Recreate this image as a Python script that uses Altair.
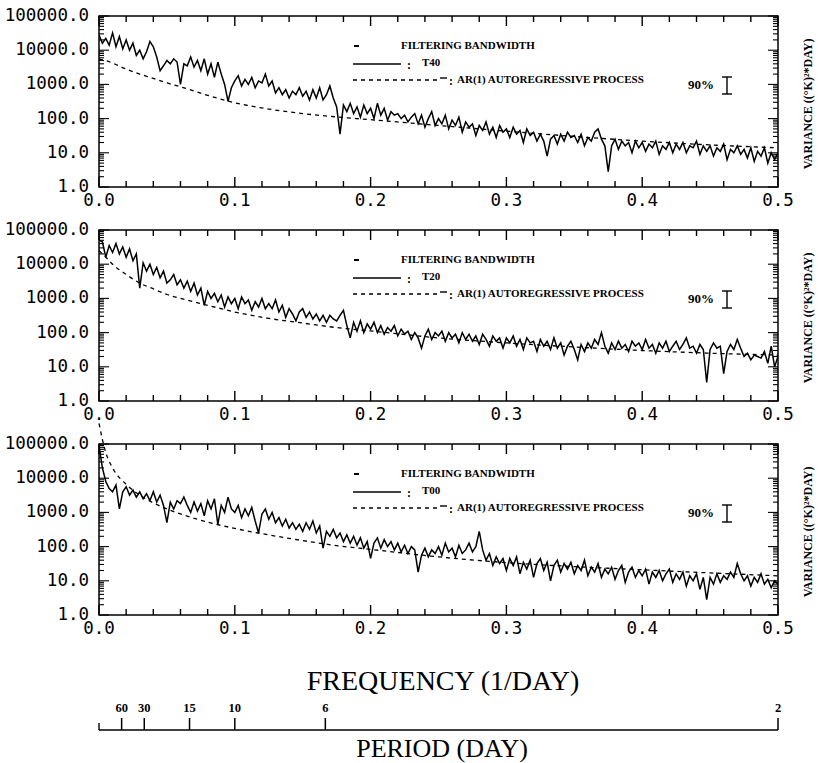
import altair as alt
import pandas as pd

# ---------------- data ----------------
FREQ = [round(i * 0.0025, 4) for i in range(201)]

T40 = [28000, 16000, 22000, 14000, 32000, 12600, 25000, 11000, 20000, 10000,
       16000, 7000, 10000, 5600, 9000, 18000, 12600, 6300, 2500, 3500,
       5000, 4000, 5600, 4500, 1000, 4000, 3500, 6300, 3200, 5000,
       2500, 5600, 2000, 4000, 1600, 4500, 2000, 1000, 320, 800,
       1260, 1800, 900, 1400, 1000, 1600, 800, 1260, 1100, 2000,
       900, 1260, 560, 800, 500, 700, 400, 630, 500, 800,
       450, 630, 350, 700, 400, 800, 350, 500, 900, 400,
       220, 35, 250, 160, 280, 140, 220, 110, 250, 140,
       200, 100, 280, 126, 200, 90, 160, 126, 140, 100,
       126, 80, 110, 140, 70, 126, 56, 100, 160, 63,
       100, 70, 126, 50, 90, 63, 110, 40, 80, 56,
       70, 32, 63, 45, 80, 35, 56, 28, 63, 40,
       50, 28, 56, 35, 45, 20, 50, 32, 40, 22,
       35, 22, 8, 25, 32, 18, 35, 22, 40, 28,
       32, 20, 35, 16, 28, 22, 40, 50, 25, 16,
       2.8, 16, 25, 12.6, 22, 16, 20, 10, 22, 14,
       20, 11, 18, 14, 22, 9, 16, 12.6, 20, 10,
       18, 12.6, 20, 10, 16, 14, 22, 9, 16, 11,
       16, 8, 14, 11, 18, 6.3, 12.6, 10, 16, 9,
       12.6, 7, 14, 5.6, 11, 8, 14, 5, 10, 6.3, 10]

T20 = [50000, 45000, 16000, 35000, 22000, 40000, 20000, 32000, 16000, 28000,
       12600, 20000, 2000, 11000, 6300, 10000, 5000, 8000, 4000, 6300,
       2800, 3500, 5000, 2500, 3500, 2000, 3200, 1600, 2800, 1260,
       2000, 630, 1600, 1000, 1400, 800, 1260, 560, 1100, 700,
       1000, 500, 1100, 700, 900, 450, 800, 560, 1000, 500,
       700, 500, 900, 400, 630, 280, 500, 350, 220, 400,
       500, 280, 400, 250, 350, 220, 320, 200, 320, 250,
       220, 320, 450, 160, 70, 200, 110, 220, 100, 180,
       126, 200, 100, 160, 90, 140, 110, 160, 80, 126,
       90, 110, 63, 100, 70, 35, 80, 126, 63, 100,
       80, 110, 56, 100, 70, 90, 50, 100, 63, 90,
       56, 80, 45, 90, 63, 40, 80, 56, 70, 35,
       70, 50, 80, 40, 63, 32, 70, 50, 56, 28,
       63, 40, 56, 32, 70, 35, 50, 22, 40, 56,
       32, 16, 45, 28, 50, 35, 63, 45, 100, 40,
       25, 50, 32, 56, 35, 45, 28, 56, 40, 50,
       32, 63, 35, 45, 25, 50, 35, 56, 28, 40,
       56, 32, 45, 70, 35, 40, 25, 45, 32, 3.5,
       32, 50, 35, 40, 6.3, 28, 45, 32, 63, 35,
       20, 25, 16, 22, 20, 18, 28, 12.6, 40, 10, 20]

T00 = [89000, 20000, 8000, 5000, 4000, 6300, 1260, 4000, 5600, 3200,
       4500, 2800, 4000, 2500, 3500, 2200, 4000, 2000, 3200, 1600,
       500, 2000, 1260, 2200, 1800, 2800, 1600, 1000, 2000, 1100,
       1800, 800, 2200, 1260, 2500, 450, 1600, 1000, 2800, 1260,
       1000, 1600, 700, 1260, 800, 1400, 560, 250, 900, 1260,
       630, 1000, 500, 700, 400, 630, 350, 500, 320, 450,
       280, 500, 320, 560, 250, 400, 90, 280, 200, 320,
       180, 250, 140, 220, 126, 200, 110, 180, 90, 140,
       45, 126, 180, 90, 160, 100, 140, 80, 126, 70,
       110, 63, 100, 80, 18, 56, 90, 50, 80, 63,
       100, 56, 126, 70, 90, 50, 110, 63, 80, 126,
       70, 100, 280, 80, 40, 63, 28, 50, 32, 45,
       20, 45, 28, 50, 16, 35, 22, 40, 12.6, 32,
       45, 20, 35, 10, 28, 40, 18, 32, 22, 35,
       16, 28, 20, 40, 14, 25, 18, 32, 12.6, 22,
       16, 25, 11, 20, 28, 9, 18, 25, 12.6, 20,
       14, 22, 8, 18, 12.6, 20, 10, 16, 22, 9,
       16, 11, 18, 7, 14, 10, 16, 5.6, 12.6, 2.8,
       12.6, 8, 16, 9, 14, 11, 18, 12.6, 32, 16,
       10, 14, 7, 12.6, 9, 16, 8, 11, 6.3, 10, 8]

AR_FREQ = [0, 0.005, 0.01, 0.02, 0.03, 0.04, 0.05, 0.06, 0.08, 0.1,
           0.125, 0.15, 0.175, 0.2, 0.25, 0.3, 0.35, 0.4, 0.45, 0.5]
AR_T40 = [5500, 5000, 4200, 2800, 2000, 1500, 1100, 850, 480, 290,
          190, 140, 112, 93, 63, 43, 30, 22, 17, 14]
AR_T20 = [25000, 16000, 10000, 5000, 2800, 1900, 1300, 1000, 630, 400,
          260, 190, 140, 112, 70, 50, 38, 30, 25, 22]
AR_T00 = [400000, 56000, 20000, 6600, 3200, 1900, 1260, 900, 520, 340,
          220, 150, 107, 83, 50, 34, 26, 21, 17, 14]

SERIES_NAMES = ["T40", "T20", "T00"]
X_TICKS = [0.0, 0.1, 0.2, 0.3, 0.4, 0.5]
X_MINOR = [round(k * 0.02, 2) for k in range(1, 25) if k % 5 != 0]
Y_TICKS = [1, 10, 100, 1000, 10000, 100000]
Y_MINOR = [m * 10 ** k for k in range(5) for m in range(2, 10)]
PERIODS = [60, 30, 15, 10, 6, 2]

# ---------------- layout ----------------
W, H = 679, 171
SERIF = "Liberation Serif"
MONO = "DejaVu Sans Mono"

xs = alt.Scale(domain=[0, 0.5], nice=False, zero=False)
ys = alt.Scale(type="log", domain=[1, 100000], nice=False)


def X(field="f"):
    return alt.X(f"{field}:Q", scale=xs, axis=None, title=None)


def Y(field="v"):
    return alt.Y(f"{field}:Q", scale=ys, axis=None, title=None)


ONE = pd.DataFrame({"a": [0]})


def txt(s, x, y, size=11, bold=True, align="left", font=SERIF, angle=0):
    kw = dict(text=s, align=align, baseline="middle", font=font,
              fontSize=size, color="black")
    if bold:
        kw["fontWeight"] = "bold"
    if angle:
        kw["angle"] = angle
    return alt.Chart(ONE).mark_text(**kw).encode(x=alt.value(x), y=alt.value(y))


def hrule(x1, x2, y, width=1.4, dash=None):
    kw = dict(color="black", strokeWidth=width)
    if dash:
        kw["strokeDash"] = dash
    return alt.Chart(ONE).mark_rule(**kw).encode(
        x=alt.value(x1), x2=alt.value(x2), y=alt.value(y))


def vrule(x, y1, y2, width=1.4):
    return alt.Chart(ONE).mark_rule(color="black", strokeWidth=width).encode(
        x=alt.value(x), y=alt.value(y1), y2=alt.value(y2))


def panel(name, vals, ar_vals):
    df = pd.DataFrame({"f": FREQ, "v": vals})
    ar = pd.DataFrame({"f": AR_FREQ, "v": ar_vals})
    spec = alt.Chart(df).mark_line(color="black", strokeWidth=1.5, clip=True).encode(
        x=X(), y=Y())
    dashed = alt.Chart(ar).mark_line(color="black", strokeWidth=1.3,
                                     strokeDash=[4, 4], interpolate="monotone").encode(
        x=X(), y=Y())
    layers = [spec, dashed]
    # inward ticks on all four sides
    for vals_, ln in ((X_TICKS, 10), (X_MINOR, 6)):
        d = pd.DataFrame({"tf": vals_})
        layers.append(alt.Chart(d).mark_rule(color="black", strokeWidth=1.4).encode(
            x=X("tf"), y=alt.value(H), y2=alt.value(H - ln)))
        layers.append(alt.Chart(d).mark_rule(color="black", strokeWidth=1.4).encode(
            x=X("tf"), y=alt.value(0), y2=alt.value(ln)))
    for vals_, ln in ((Y_TICKS, 10), (Y_MINOR, 5)):
        d = pd.DataFrame({"tv": vals_})
        layers.append(alt.Chart(d).mark_rule(color="black", strokeWidth=1.1).encode(
            y=Y("tv"), x=alt.value(0), x2=alt.value(ln)))
        layers.append(alt.Chart(d).mark_rule(color="black", strokeWidth=1.1).encode(
            y=Y("tv"), x=alt.value(W), x2=alt.value(W - ln)))
    # tick labels
    layers.append(alt.Chart(pd.DataFrame({"tf": X_TICKS})).mark_text(
        font=MONO, fontSize=17.5, color="black", align="center", baseline="top"
    ).encode(x=X("tf"), y=alt.value(H + 5), text=alt.Text("tf:Q", format=".1f")))
    layers.append(alt.Chart(pd.DataFrame({"tv": Y_TICKS})).mark_text(
        font=MONO, fontSize=17.5, color="black", align="right", baseline="middle"
    ).encode(y=Y("tv"), x=alt.value(-10), text=alt.Text("tv:Q", format=".1f")))
    # legend block
    layers += [
        hrule(255, 260, 30, width=2),
        txt("FILTERING BANDWIDTH", 302, 30),
        hrule(254, 302, 48),
        txt(":", 308, 49, size=12),
        txt(name, 323, 47),
        hrule(254, 340, 64, dash=[4, 4]),
        hrule(341, 348, 62),
        txt(":", 350, 65, size=12),
        txt("AR(1) AUTOREGRESSIVE PROCESS", 358, 64),
        txt("90%", 589, 69, size=13),
        vrule(628, 61, 78),
        hrule(623, 633, 61),
        hrule(623, 633, 78),
        txt("VARIANCE ((°K)²*DAY)", 709, 88, size=12, angle=270, align="center"),
    ]
    return alt.layer(*layers).properties(width=W, height=H)


panels = [panel(n, v, a) for n, v, a in
          zip(SERIES_NAMES, [T40, T20, T00], [AR_T40, AR_T20, AR_T00])]

# ---------------- period axis block ----------------
bx = alt.X("f:Q", scale=xs, axis=None)
pdf = pd.DataFrame({"p": PERIODS, "f": [1.0 / p for p in PERIODS]})
base_line = alt.Chart(pd.DataFrame({"f": [0.0], "f2": [0.5]})).mark_rule(
    color="black", strokeWidth=1.5).encode(x=bx, x2="f2:Q", y=alt.value(72))
p_ticks = alt.Chart(pdf).mark_rule(color="black", strokeWidth=1.5).encode(
    x=bx, y=alt.value(72), y2=alt.value(60))
p_labels = alt.Chart(pdf).mark_text(font=SERIF, fontSize=12.5, fontWeight="bold",
                                    baseline="middle", color="black").encode(
    x=bx, text=alt.Text("p:N"), y=alt.value(50))
end_tick = vrule(0, 72, 65)
bottom = alt.layer(
    base_line, p_ticks, p_labels, end_tick,
    txt("FREQUENCY (1/DAY)", 344, 24, size=28, bold=False, align="center"),
    txt("PERIOD (DAY)", 343, 91, size=26, bold=False, align="center"),
).properties(width=W, height=100, view=alt.ViewBackground(stroke="transparent"))

chart = alt.vconcat(*panels, bottom, spacing=43, bounds="flush").properties(
    padding={"left": 3, "top": 6, "right": 5, "bottom": 0},
    background="white",
).configure_view(stroke="black", strokeWidth=1.5)

chart.save("out.html", embed_options={"renderer": "svg", "actions": False})
